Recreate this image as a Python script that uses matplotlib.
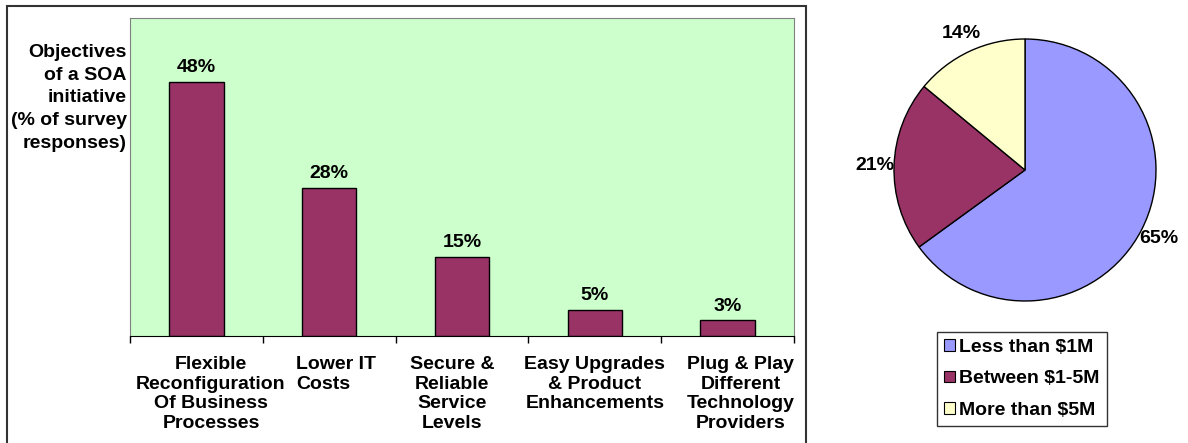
import matplotlib
matplotlib.use("Agg")
import matplotlib.pyplot as plt
from matplotlib.patches import Rectangle, Patch

plt.rcParams["font.family"] = ["Liberation Sans", "DejaVu Sans"]
plt.rcParams["font.weight"] = "bold"

# данные
objectives = ["Flexible\nReconfiguration\nOf Business\nProcesses",
              "Lower IT\nCosts",
              "Secure &\nReliable\nService\nLevels",
              "Easy Upgrades\n& Product\nEnhancements",
              "Plug & Play\nDifferent\nTechnology\nProviders"]
objective_pct = [48, 28, 15, 5, 3]

budget_labels = ["Less than $1M", "Between $1-5M", "More than $5M"]
budget_pct = [65, 21, 14]

W, H = 1188, 443
FS = 14
fig = plt.figure(figsize=(W / 100, H / 100), dpi=100)

# рамка вокруг левого графика
fig.patches.append(Rectangle((7 / W, -0.05), (806 - 7) / W, 1.05 - 6 / H,
                             transform=fig.transFigure, fill=False,
                             edgecolor="#333333", linewidth=1.5))

# столбчатая диаграмма
ax = fig.add_axes([130 / W, (H - 336) / H, 664 / W, (336 - 18) / H])
ax.set_facecolor("#CCFFCC")
x = list(range(len(objective_pct)))
bars = ax.bar(x, objective_pct, width=0.41, color="#993366",
              edgecolor="black", linewidth=1)
ax.set_xlim(-0.5, len(x) - 0.5)
ax.set_ylim(0, 60)
for b, v in zip(bars, objective_pct):
    ax.annotate(f"{v}%", (b.get_x() + b.get_width() / 2, v),
                xytext=(0, 4), textcoords="offset points",
                ha="center", va="bottom", fontsize=FS, fontweight="bold")

ax.set_yticks([])
ax.set_xticks([i - 0.5 for i in range(len(x) + 1)])
ax.set_xticklabels([])
ax.tick_params(axis="x", length=5, direction="out", width=1, color="black")
for s in ["top", "right", "left"]:
    ax.spines[s].set_color("#808080")
ax.spines["bottom"].set_color("black")

# подписи категорий
lbl_shift = [0.11, -0.25, -0.075, 0.0, 0.1]
lbl_ha = ["center", "left", "center", "center", "center"]
for i, (t, dx, ha) in enumerate(zip(objectives, lbl_shift, lbl_ha)):
    ax.text(i + dx, -3.8, t, ha=ha, va="top", multialignment=ha,
            fontsize=FS, fontweight="bold", linespacing=1.2,
            transform=ax.transData, clip_on=False)

fig.text(127 / W, 1 - 98 / H,
         "Objectives\nof a SOA\ninitiative\n(% of survey\nresponses)",
         ha="right", va="center", multialignment="right",
         fontsize=FS, fontweight="bold", linespacing=1.45)

# круговая диаграмма
pie_colors = ["#9999FF", "#993366", "#FFFFCC"]
r = 131
pax = fig.add_axes([(1025 - r) / W, (H - 170 - r) / H, 2 * r / W, 2 * r / H])
wedges, _, autotexts = pax.pie(budget_pct, colors=pie_colors, startangle=90,
                               counterclock=False, autopct="%d%%",
                               pctdistance=1.15,
                               wedgeprops=dict(edgecolor="black", linewidth=1))
for t in autotexts:
    t.set_fontsize(FS)
    t.set_fontweight("bold")
pax.set_xlim(-1, 1)
pax.set_ylim(-1, 1)

handles = [Patch(facecolor=c, edgecolor="black", linewidth=0.8) for c in pie_colors]
fig.legend(handles, budget_labels, loc="upper left",
           bbox_to_anchor=(937 / W, 1 - 332 / H),
           prop=dict(size=FS, weight="bold"),
           frameon=True, fancybox=False, edgecolor="black",
           handlelength=0.55, handleheight=0.55, handletextpad=0.25,
           labelspacing=0.75, borderpad=0.35, borderaxespad=0)

fig.savefig("out.png", dpi=100)
